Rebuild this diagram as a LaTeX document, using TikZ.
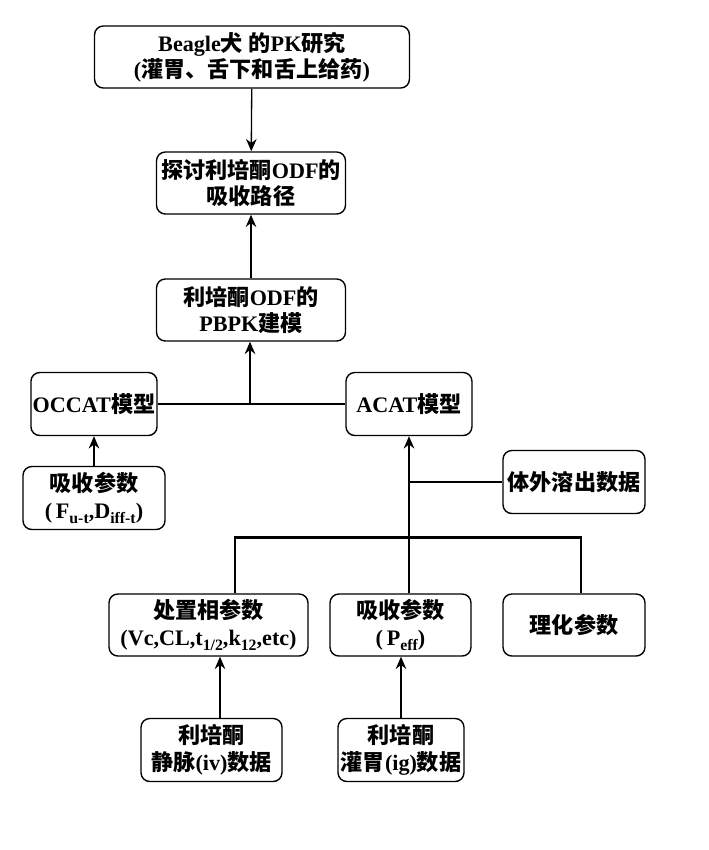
\documentclass[tikz,border=0pt]{standalone}
\usepackage{fontspec}
\setmainfont{Liberation Serif}
\newfontfamily\cjk{Noto Sans CJK SC}
\usetikzlibrary{arrows.meta}
\newcommand{\zh}[1]{{\cjk #1}}
\newcommand{\sub}[1]{\raisebox{-0.5ex}{\small #1}}
\begin{document}
\begin{tikzpicture}[x=0.02cm,y=-0.02cm,
    box/.style={draw,line width=0.8pt,rounded corners=5pt,align=center,
      inner sep=1pt,font=\fontsize{12.6}{15}\selectfont\bfseries},
    arr/.style={line width=0.75pt,-{Stealth[length=7pt,width=6pt]}},
    link/.style={line width=0.75pt},
    bus/.style={line width=1.7pt}]
  \useasboundingbox (0,0) rectangle (709,850);
  \draw
    (252,57) node[box,minimum width=6.3cm,minimum height=1.24cm] (study)
      {Beagle\zh{犬} \zh{的}PK\zh{研究}\\(\zh{灌胃、舌下和舌上给药})}
    (251,183) node[box,minimum width=3.78cm,minimum height=1.24cm] (route)
      {\zh{探讨利培酮}ODF\zh{的}\\\zh{吸收路径}}
    (251,310) node[box,minimum width=3.78cm,minimum height=1.24cm] (pbpk)
      {\zh{利培酮}ODF\zh{的}\\PBPK\zh{建模}}
    (94,404) node[box,minimum width=2.52cm,minimum height=1.26cm] (occat)
      {OCCAT\zh{模型}}
    (409,404) node[box,minimum width=2.52cm,minimum height=1.26cm] (acat)
      {ACAT\zh{模型}}
    (94,498) node[box,minimum width=2.84cm,minimum height=1.26cm] (absf)
      {\zh{吸收参数}\\(\,F\sub{u-t},D\sub{iff-t})}
    (574,482) node[box,minimum width=2.84cm,minimum height=1.26cm] (diss)
      {\zh{体外溶出数据}}
    (208.5,625) node[box,minimum width=3.98cm,minimum height=1.24cm] (disp)
      {\zh{处置相参数}\\(Vc,CL,t\sub{1/2},k\sub{12},etc)}
    (400.5,625) node[box,minimum width=2.82cm,minimum height=1.24cm] (peff)
      {\zh{吸收参数}\\(\,P\sub{eff})}
    (574,625) node[box,minimum width=2.84cm,minimum height=1.24cm] (phys)
      {\zh{理化参数}}
    (211.5,750) node[box,minimum width=2.82cm,minimum height=1.26cm] (iv)
      {\zh{利培酮}\\\zh{静脉}(iv)\zh{数据}}
    (401,750) node[box,minimum width=2.52cm,minimum height=1.26cm] (ig)
      {\zh{利培酮}\\\zh{灌胃}(ig)\zh{数据}};
  \coordinate (join) at (250,404);
  \begin{scope}[link]
    \draw[arr] (study) to (route);
    \draw[arr] (pbpk) to (route);
    \draw (occat) to (acat);
    \draw[arr] (join) to (join |- pbpk.south);
    \draw[arr] (absf) to (occat);
    \draw[arr] (acat.south |- peff.north) to (acat.south);
    \draw (diss.west) to (diss.west -| acat.south);
    \draw[bus] ([xshift=0.53cm]disp.north) -- ++(0,-56) -| ([xshift=0.14cm]phys.north);
    \draw[arr] ([xshift=0.17cm]iv.north) to ([xshift=0.17cm]iv.north |- disp.south);
    \draw[arr] (ig.north) to (ig.north |- peff.south);
  \end{scope}
\end{tikzpicture}
\end{document}
